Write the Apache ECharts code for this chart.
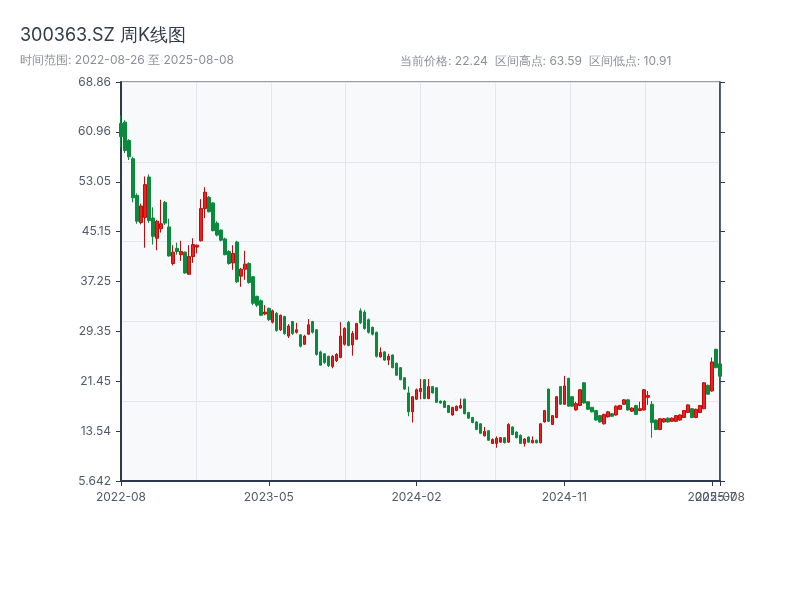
<!DOCTYPE html>
<html>
<head>
<meta charset="utf-8">
<script src="https://cdn.jsdelivr.net/npm/echarts@6/dist/echarts.min.js"></script>
<style>html,body{margin:0;padding:0;background:#fff}#c{width:800px;height:600px}</style>
</head>
<body>
<div id="c"></div>
<script>
var stockCode = '300363.SZ';
var dates = [
'2022-08-26','2022-09-02','2022-09-09','2022-09-16','2022-09-23','2022-09-30','2022-10-14','2022-10-21','2022-10-28','2022-11-04',
'2022-11-11','2022-11-18','2022-11-25','2022-12-02','2022-12-09','2022-12-16','2022-12-23','2022-12-30','2023-01-06','2023-01-13',
'2023-01-20','2023-02-03','2023-02-10','2023-02-17','2023-02-24','2023-03-03','2023-03-10','2023-03-17','2023-03-24','2023-03-31',
'2023-04-07','2023-04-14','2023-04-21','2023-04-28','2023-05-05','2023-05-12','2023-05-19','2023-05-26','2023-06-02','2023-06-09',
'2023-06-16','2023-06-21','2023-06-30','2023-07-07','2023-07-14','2023-07-21','2023-07-28','2023-08-04','2023-08-11','2023-08-18',
'2023-08-25','2023-09-01','2023-09-08','2023-09-15','2023-09-22','2023-09-28','2023-10-13','2023-10-20','2023-10-27','2023-11-03',
'2023-11-10','2023-11-17','2023-11-24','2023-12-01','2023-12-08','2023-12-15','2023-12-22','2023-12-29','2024-01-05','2024-01-12',
'2024-01-19','2024-01-26','2024-02-02','2024-02-08','2024-02-23','2024-03-01','2024-03-08','2024-03-15','2024-03-22','2024-03-29',
'2024-04-03','2024-04-12','2024-04-19','2024-04-26','2024-04-30','2024-05-10','2024-05-17','2024-05-24','2024-05-31','2024-06-07',
'2024-06-14','2024-06-21','2024-06-28','2024-07-05','2024-07-12','2024-07-19','2024-07-26','2024-08-02','2024-08-09','2024-08-16',
'2024-08-23','2024-08-30','2024-09-06','2024-09-13','2024-09-20','2024-09-27','2024-09-30','2024-10-11','2024-10-18','2024-10-25',
'2024-11-01','2024-11-08','2024-11-15','2024-11-22','2024-11-29','2024-12-06','2024-12-13','2024-12-20','2024-12-27','2025-01-03',
'2025-01-10','2025-01-17','2025-01-24','2025-01-27','2025-02-07','2025-02-14','2025-02-21','2025-02-28','2025-03-07','2025-03-14',
'2025-03-21','2025-03-28','2025-04-03','2025-04-11','2025-04-18','2025-04-25','2025-04-30','2025-05-09','2025-05-16','2025-05-23',
'2025-05-30','2025-06-06','2025-06-13','2025-06-20','2025-06-27','2025-07-04','2025-07-11','2025-07-18','2025-07-25','2025-08-01',
'2025-08-08'
];
// [open, close, low, high]
var ohlc = [
[62.3,60.2,58.5,63.59],[62.5,58.0,57.6,62.8],[59.6,57.0,56.5,59.8],[56.7,50.5,49.8,57.0],[50.9,46.8,46.4,51.2],
[46.6,49.2,46.3,49.6],[47.4,52.6,42.6,53.9],[53.8,46.9,46.5,54.2],[47.3,44.4,43.1,49.0],[44.1,46.8,42.2,47.0],
[45.6,46.4,45.0,50.2],[49.8,46.5,46.2,50.0],[45.9,41.3,41.2,47.2],[40.1,41.9,39.8,43.0],[42.5,42.0,41.5,43.4],
[41.5,42.0,40.5,43.7],[41.9,38.6,38.5,42.0],[38.4,41.2,38.3,43.0],[41.2,43.1,40.2,44.1],[42.7,43.0,41.7,43.1],
[43.7,48.8,43.6,50.3],[48.8,51.4,47.3,52.2],[50.6,48.3,48.2,50.8],[49.7,45.3,45.2,49.8],[46.5,44.6,44.4,46.8],
[45.4,43.8,43.6,45.5],[44.0,41.5,41.4,44.2],[42.0,40.1,39.9,42.2],[40.2,41.7,39.1,43.0],[43.5,37.2,37.0,43.7],
[38.1,39.2,36.4,39.4],[39.2,40.0,37.5,42.1],[40.1,37.1,36.9,40.3],[38.0,33.8,33.5,38.1],[34.9,33.5,33.2,35.0],
[34.2,31.9,31.8,34.4],[32.1,32.4,31.9,33.5],[33.0,31.2,31.0,33.1],[30.8,32.6,30.6,32.8],[32.2,29.5,29.3,32.4],
[29.6,31.9,29.4,32.0],[31.7,29.0,28.8,31.8],[28.6,30.2,28.3,30.5],[30.9,29.0,28.8,31.0],[29.2,29.6,29.0,30.7],
[28.8,27.0,26.8,28.9],[27.3,28.6,27.2,28.8],[28.9,30.4,28.8,31.3],[30.9,29.2,29.0,31.0],[29.6,25.7,25.5,29.7],
[26.1,24.0,23.9,26.3],[25.8,24.4,24.2,25.9],[25.4,23.9,23.7,25.5],[23.8,25.4,23.5,25.6],[24.7,25.7,24.5,25.9],
[25.2,28.6,25.1,30.8],[27.3,29.8,27.1,30.0],[30.8,27.1,27.0,31.0],[27.2,29.0,25.5,29.4],[28.1,30.6,28.0,30.7],
[32.6,30.7,30.5,33.0],[32.4,29.8,29.6,32.7],[31.2,29.2,29.0,31.4],[30.0,28.9,28.7,30.1],[29.2,25.4,25.2,29.3],
[25.3,26.0,25.2,26.8],[26.1,24.8,24.7,26.2],[24.8,25.4,24.0,25.8],[25.6,23.6,23.5,25.7],[24.3,22.4,22.3,24.4],
[23.6,21.7,21.6,23.7],[22.0,20.2,20.1,22.1],[19.6,16.6,15.9,20.6],[16.6,19.0,14.9,19.1],[18.6,20.1,18.5,20.3],
[19.8,20.3,18.6,21.8],[21.7,18.7,18.6,21.8],[18.7,20.6,18.6,21.8],[20.6,19.6,19.5,20.7],[20.4,18.1,18.0,20.5],
[18.3,18.0,17.9,18.4],[18.3,17.3,17.2,18.4],[17.6,16.5,16.4,17.7],[16.1,17.3,16.0,17.4],[16.8,17.5,16.7,17.6],
[17.2,17.6,17.1,18.7],[18.6,16.3,16.2,18.7],[16.5,15.6,15.5,16.6],[15.7,14.9,14.8,15.8],[15.0,13.8,13.7,15.1],
[14.7,13.2,13.1,14.8],[12.8,13.5,12.7,14.2],[13.6,12.1,12.0,13.7],[11.6,12.2,11.5,12.4],[11.6,12.4,10.91,12.7],
[11.8,12.5,11.7,12.6],[12.5,11.7,11.6,12.6],[11.8,14.6,11.7,14.8],[14.2,13.0,12.9,14.3],[13.4,12.5,12.4,13.5],
[12.9,11.6,11.5,13.0],[11.6,12.3,11.1,12.4],[12.6,11.8,11.7,12.7],[11.7,12.1,11.6,12.7],[12.1,11.7,11.6,12.2],
[11.7,14.7,11.6,14.8],[15.0,16.8,14.9,16.9],[20.2,15.1,15.0,20.3],[14.6,16.0,14.5,16.1],[15.7,19.0,15.6,19.1],
[20.6,17.8,17.7,20.7],[17.8,20.7,17.7,22.3],[21.9,17.5,17.4,22.0],[19.0,17.5,17.4,19.1],[16.9,17.9,16.8,18.2],
[17.6,20.1,17.5,20.2],[21.2,18.0,17.9,21.3],[18.2,17.0,16.9,18.3],[17.3,16.6,16.5,17.4],[16.8,15.3,15.2,16.9],
[16.0,15.0,14.9,16.1],[14.7,16.2,14.6,16.3],[15.8,16.6,15.7,16.7],[16.3,15.9,15.8,16.4],[16.1,17.5,16.0,17.6],
[17.0,17.6,16.9,17.7],[17.8,18.5,17.7,18.6],[18.5,16.9,16.8,18.6],[16.7,17.2,16.6,17.3],[17.6,16.2,16.1,17.7],
[16.8,17.1,16.7,18.2],[16.9,20.1,16.8,20.2],[18.9,19.2,17.7,19.9],[17.8,14.9,12.5,18.3],[15.3,13.8,13.7,15.4],
[13.8,15.5,13.7,15.6],[15.0,15.5,14.9,15.6],[15.6,15.0,14.9,15.7],[15.1,15.6,15.0,15.7],[15.1,16.0,15.0,16.1],
[15.3,16.1,15.2,16.2],[15.7,16.8,15.6,16.9],[16.5,17.7,16.4,17.8],[17.1,15.7,15.6,17.2],[15.7,17.0,15.6,17.1],
[16.5,17.6,16.4,17.7],[17.1,21.2,17.0,21.3],[20.8,19.4,19.3,20.9],[19.9,24.5,19.8,25.2],[26.5,23.6,23.5,26.6],
[24.2,22.24,22.0,24.4]
];

var lows = ohlc.map(function(d){return d[2];});
var highs = ohlc.map(function(d){return d[3];});
var lo = Math.min.apply(null, lows), hi = Math.max.apply(null, highs);
var pad = (hi - lo) * 0.1;
var yMin = lo - pad, yMax = hi + pad, yStep = (yMax - yMin) / 8;
var lastClose = ohlc[ohlc.length - 1][1];
var lastIdx = dates.length - 1;
var labelStep = 37;

var axisDark = '#2d3a4b';
var labelGray = '#4f5a6a';
var font = 'Inter, sans-serif';

function onLastStep(idx) { return idx === Math.floor(lastIdx / labelStep) * labelStep; }

var chart = echarts.init(document.getElementById('c'), null, {renderer: 'canvas'});
chart.setOption({
  backgroundColor: '#ffffff',
  animation: false,
  textStyle: {fontFamily: font},
  title: [{
    text: stockCode + ' 周K线图',
    subtext: '时间范围: ' + dates[0] + ' 至 ' + dates[lastIdx],
    left: 15, top: 22, itemGap: 9,
    textStyle: {fontSize: 18, fontWeight: 'normal', color: '#333c4a', fontFamily: font},
    subtextStyle: {fontSize: 12, color: '#8a8f98', fontFamily: font}
  }, {
    text: '当前价格: ' + lastClose.toFixed(2) + '  区间高点: ' + hi.toFixed(2) + '  区间低点: ' + lo.toFixed(2),
    left: 395, top: 50,
    textStyle: {fontSize: 12, fontWeight: 'normal', color: '#8a8f98', fontFamily: font}
  }],
  grid: {
    left: 121, right: 80, top: 82, bottom: 119,
    show: true, backgroundColor: '#f7f9fb', borderColor: axisDark, borderWidth: 1
  },
  xAxis: [{
    type: 'category', data: dates, boundaryGap: false, position: 'bottom',
    axisLine: {show: true, lineStyle: {color: axisDark, width: 2}},
    axisTick: {show: true, length: 5, lineStyle: {color: axisDark}},
    axisLabel: {
      interval: labelStep - 1, showMaxLabel: true, hideOverlap: false, color: labelGray, fontSize: 12, margin: 10,
      fontFamily: font, formatter: function(v){ return v.slice(0, 7); }
    },
    splitLine: {show: false}
  }, {
    type: 'value', min: 0, max: 8, interval: 1, position: 'top',
    axisLine: {show: false}, axisTick: {show: false}, axisLabel: {show: false},
    splitLine: {show: true, lineStyle: {color: '#e3e6ea', width: 1}}
  }, {
    type: 'category', data: dates, boundaryGap: false, position: 'bottom',
    axisLine: {show: false},
    axisTick: {show: true, length: 5, interval: function(i){ return onLastStep(i); }, lineStyle: {color: axisDark}},
    axisLabel: {
      interval: function(i){ return onLastStep(i); }, color: labelGray, fontSize: 12, margin: 10,
      fontFamily: font, formatter: function(v){ return v.slice(0, 7); }
    },
    splitLine: {show: false}
  }],
  yAxis: [{
    type: 'value', position: 'left', min: yMin, max: yMax, interval: yStep,
    axisLine: {show: true, lineStyle: {color: axisDark, width: 2}},
    axisTick: {show: true, length: 5, lineStyle: {color: axisDark}},
    axisLabel: {color: labelGray, fontSize: 12, margin: 10, fontFamily: font,
      formatter: function(v){ return String(+(+v).toPrecision(4)); }},
    splitLine: {show: false}
  }, {
    type: 'value', position: 'right', min: yMin, max: yMax, interval: yStep,
    axisLine: {show: true, lineStyle: {color: axisDark, width: 1.5}},
    axisTick: {show: true, length: 5, lineStyle: {color: axisDark}},
    axisLabel: {show: false},
    splitLine: {show: false}
  }, {
    type: 'value', min: 0, max: 5, interval: 1,
    axisLine: {show: false}, axisTick: {show: false}, axisLabel: {show: false},
    splitLine: {show: true, lineStyle: {color: '#e3e6ea', width: 1}}
  }],
  series: [{
    type: 'candlestick', name: stockCode, xAxisIndex: 0, yAxisIndex: 0,
    data: ohlc, barWidth: 3,
    itemStyle: {
      color: '#ec2222', color0: '#0a8a3c',
      borderColor: '#c20a0a', borderColor0: '#0a8a3c', borderWidth: 1
    }
  }]
});
</script>
</body>
</html>
